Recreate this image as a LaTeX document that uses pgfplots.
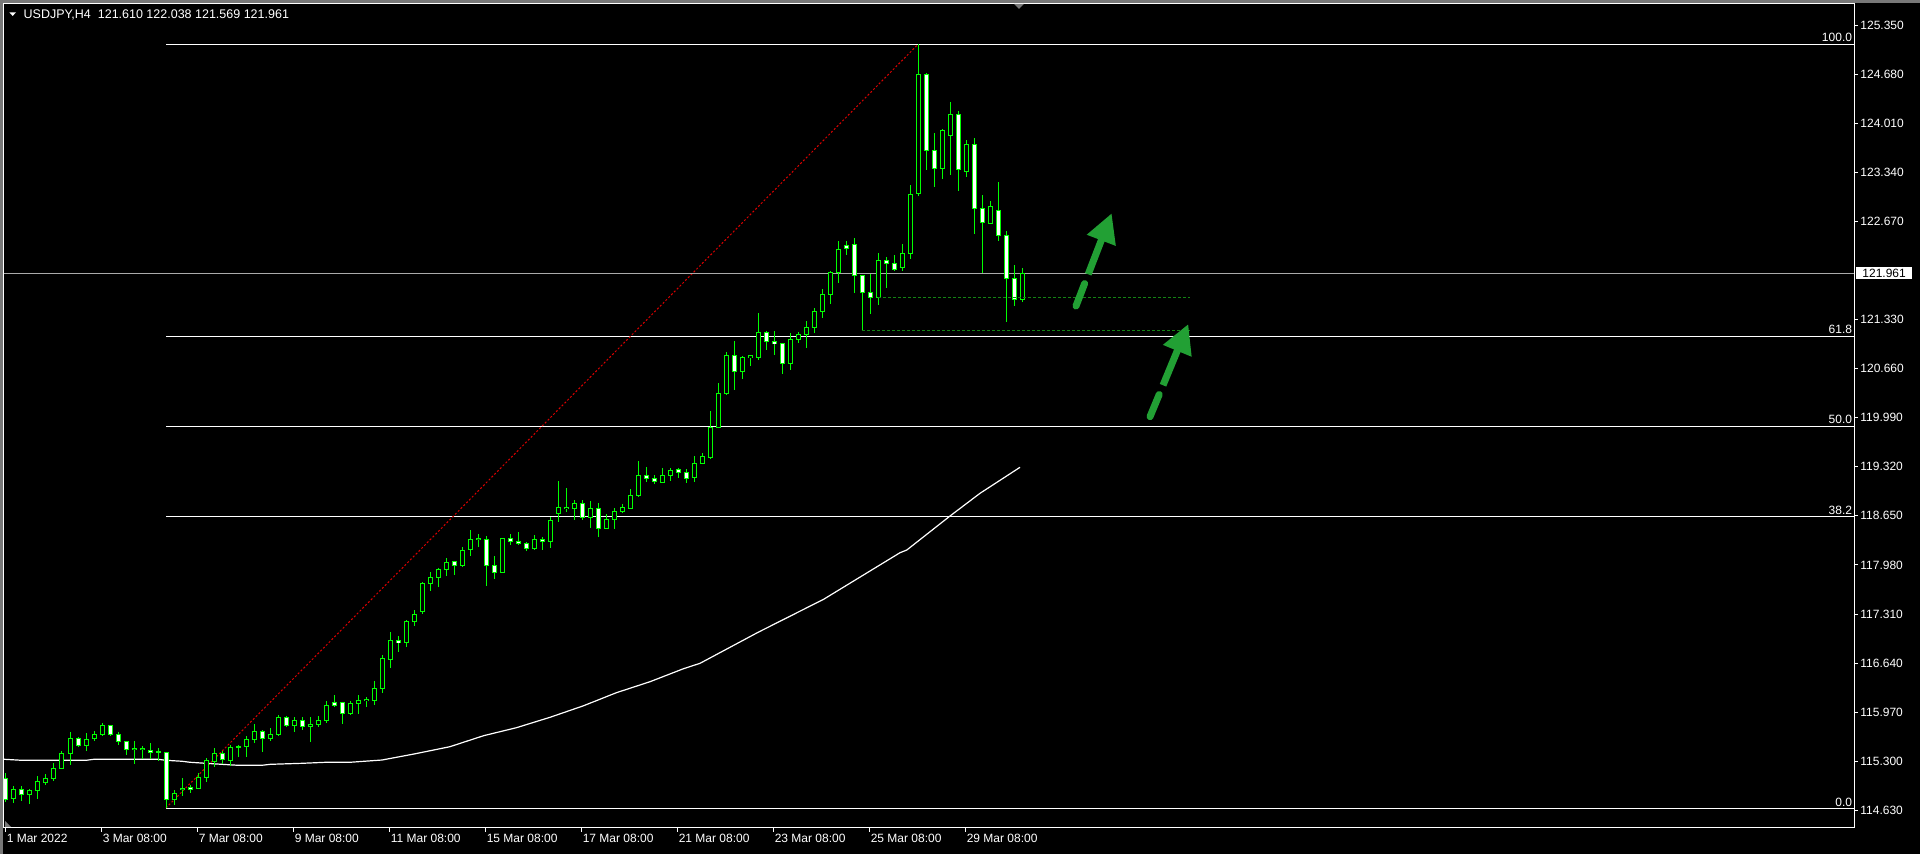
\documentclass[border=0pt]{standalone}
\usepackage{pgfplots}
\pgfplotsset{compat=1.18}
\usepackage{pgfplotstable}
\usepackage{fontspec}
\setmainfont{Liberation Sans}
\usetikzlibrary{arrows.meta}

\definecolor{mtgreen}{RGB}{0,255,0}
\definecolor{arrowgreen}{RGB}{34,160,52}
\definecolor{dashgreen}{RGB}{20,130,20}
\definecolor{fibred}{RGB}{220,0,0}
\definecolor{pricegray}{RGB}{170,170,170}
\definecolor{bordergray}{RGB}{120,120,120}

\pgfplotstableread{
i o h l c
0 115.067 115.135 114.748 114.780
1 114.794 114.962 114.725 114.921
2 114.916 114.962 114.762 114.848
3 114.848 114.921 114.712 114.903
4 114.903 115.094 114.789 115.017
5 115.012 115.121 114.971 115.067
6 115.062 115.276 115.035 115.203
7 115.199 115.440 115.199 115.408
8 115.408 115.704 115.253 115.613
9 115.613 115.626 115.499 115.517
10 115.513 115.681 115.444 115.599
11 115.608 115.713 115.576 115.667
12 115.667 115.822 115.644 115.790
13 115.790 115.799 115.649 115.667
14 115.667 115.704 115.517 115.572
15 115.572 115.572 115.390 115.462
16 115.462 115.576 115.258 115.476
17 115.462 115.508 115.331 115.476
18 115.449 115.549 115.326 115.422
19 115.422 115.476 115.308 115.435
20 115.422 115.422 114.662 114.780
21 114.780 114.907 114.707 114.862
22 114.916 115.071 114.830 114.930
23 114.944 114.971 114.871 114.916
24 114.925 115.135 114.916 115.080
25 115.076 115.340 115.021 115.312
26 115.299 115.476 115.217 115.408
27 115.408 115.435 115.262 115.326
28 115.308 115.517 115.240 115.490
29 115.490 115.517 115.362 115.503
30 115.499 115.640 115.362 115.599
31 115.599 115.808 115.554 115.708
32 115.708 115.722 115.431 115.608
33 115.608 115.749 115.576 115.667
34 115.667 115.927 115.640 115.899
35 115.899 115.918 115.772 115.790
36 115.786 115.899 115.704 115.858
37 115.858 115.899 115.731 115.776
38 115.781 115.899 115.567 115.808
39 115.804 115.918 115.772 115.858
40 115.858 116.118 115.817 116.063
41 116.104 116.200 116.040 116.063
42 116.104 116.109 115.813 115.954
43 115.954 116.120 115.930 116.091
44 116.091 116.205 115.941 116.137
45 116.132 116.173 116.046 116.150
46 116.132 116.396 116.073 116.296
47 116.296 116.751 116.237 116.705
48 116.692 117.060 116.578 116.951
49 116.951 117.010 116.796 116.919
50 116.919 117.229 116.865 117.211
51 117.211 117.365 117.151 117.311
52 117.343 117.752 117.315 117.729
53 117.725 117.884 117.629 117.811
54 117.807 117.939 117.684 117.920
55 117.916 118.075 117.834 118.021
56 118.021 118.039 117.848 117.975
57 117.971 118.221 117.957 118.184
58 118.194 118.457 118.107 118.330
59 118.330 118.403 118.230 118.344
60 118.330 118.376 117.697 117.975
61 117.975 118.102 117.793 117.880
62 117.880 118.353 117.866 118.344
63 118.344 118.398 118.257 118.303
64 118.303 118.430 118.248 118.275
65 118.275 118.294 118.175 118.207
66 118.203 118.389 118.184 118.330
67 118.330 118.357 118.184 118.303
68 118.298 118.639 118.216 118.589
69 118.685 119.126 118.571 118.767
70 118.749 119.031 118.707 118.771
71 118.749 118.867 118.594 118.821
72 118.821 118.867 118.598 118.630
73 118.630 118.853 118.489 118.753
74 118.753 118.821 118.366 118.480
75 118.475 118.671 118.471 118.603
76 118.603 118.758 118.471 118.712
77 118.712 118.808 118.694 118.758
78 118.749 119.017 118.749 118.931
79 118.926 119.399 118.912 119.204
80 119.204 119.313 119.117 119.158
81 119.163 119.208 119.090 119.122
82 119.103 119.299 119.103 119.204
83 119.199 119.299 119.131 119.276
84 119.285 119.308 119.172 119.240
85 119.245 119.285 119.103 119.158
86 119.172 119.467 119.117 119.367
87 119.367 119.504 119.358 119.463
88 119.454 120.082 119.427 119.859
89 119.859 120.460 119.854 120.323
90 120.323 120.888 120.300 120.842
91 120.842 121.038 120.369 120.619
92 120.619 120.830 120.519 120.815
93 120.815 120.847 120.696 120.833
94 120.810 121.420 120.778 121.156
95 121.156 121.174 120.915 121.029
96 121.033 121.174 120.847 121.001
97 121.006 121.006 120.587 120.728
98 120.728 121.142 120.642 121.060
99 121.060 121.165 121.015 121.129
100 121.124 121.311 120.947 121.224
101 121.224 121.484 121.151 121.443
102 121.443 121.748 121.356 121.675
103 121.675 121.993 121.538 121.975
104 121.975 122.402 121.834 122.293
105 122.343 122.402 122.211 122.298
106 122.357 122.439 121.697 121.934
107 121.934 121.934 121.187 121.702
108 121.702 121.952 121.410 121.633
109 121.633 122.234 121.533 122.138
110 122.138 122.189 121.765 122.098
111 122.098 122.207 121.993 122.016
112 122.043 122.362 121.998 122.234
113 122.234 123.167 122.157 123.040
114 123.053 125.087 123.021 124.678
115 124.678 124.701 123.372 123.645
116 123.636 123.872 123.135 123.399
117 123.399 123.927 123.244 123.918
118 123.845 124.296 123.299 124.132
119 124.132 124.177 123.090 123.372
120 123.354 123.781 123.281 123.722
121 123.722 123.804 122.494 122.853
122 122.849 123.031 121.961 122.657
123 122.648 122.944 122.635 122.876
124 122.821 123.208 122.407 122.480
125 122.480 122.535 121.297 121.893
126 121.893 122.075 121.515 121.606
127 121.610 122.038 121.569 121.961
}\candles

\pgfplotstableread{
i m
-0.25 115.327
2 115.313
10 115.313
11 115.327
19 115.327
20 115.313
22 115.300
23 115.286
25 115.272
27 115.258
29 115.245
32 115.245
33 115.258
37 115.272
40 115.286
43 115.286
47 115.317
51 115.399
55.5 115.499
59.7 115.649
63.8 115.758
68 115.900
72.2 116.058
76.3 116.236
80.5 116.386
84.7 116.564
86.75 116.637
94 117.060
102.2 117.511
111.75 118.147
112.6 118.184
118 118.648
121.75 118.958
126.75 119.313
}\ma

\begin{document}
\begin{tikzpicture}
\fill[black] (0,0) rectangle (960pt,427pt);
\path[use as bounding box] (0,0) rectangle (960pt,427pt);
\fill[bordergray] (0,0) rectangle (1.5pt,427pt);
\fill[bordergray] (0,425.5pt) rectangle (960pt,427pt);
\begin{axis}[
  at={(2pt,13pt)}, anchor=south west,
  scale only axis, width=925pt, height=412pt,
  xmin=-0.25, xmax=231, ymin=114.389, ymax=125.638,
  axis background/.style={fill=black},
  axis line style={white, line width=0.5pt},
  tick style={white, line width=0.5pt},
  major tick length=2pt, tick align=outside,
  ytick pos=right, yticklabel pos=right,
  xtick pos=bottom,
  ytick={114.63,115.30,115.97,116.64,117.31,117.98,118.65,119.32,119.99,120.66,121.33,122.67,123.34,124.01,124.68,125.35},
  yticklabel style={font=\fontsize{6pt}{7pt}\selectfont, text=white, anchor=west, inner sep=0pt, xshift=1pt,
    /pgf/number format/.cd, fixed, fixed zerofill, precision=3, assume math mode=true},
  xtick={-0.075,11.925,23.925,35.925,47.925,59.925,71.925,83.925,95.925,107.925,119.925},
  xticklabels={1 Mar 2022,3 Mar 08:00,7 Mar 08:00,9 Mar 08:00,11 Mar 08:00,15 Mar 08:00,17 Mar 08:00,21 Mar 08:00,23 Mar 08:00,25 Mar 08:00,29 Mar 08:00},
  xticklabel style={font=\fontsize{6pt}{7pt}\selectfont, text=white, anchor=north west, inner sep=0pt, xshift=0.5pt, yshift=-1pt},
]
% fibonacci levels
\addplot[white, line width=0.5pt] coordinates {(20,125.090) (231,125.090)};
\addplot[white, line width=0.5pt] coordinates {(20,121.102) (231,121.102)};
\addplot[white, line width=0.5pt] coordinates {(20,119.870) (231,119.870)};
\addplot[white, line width=0.5pt] coordinates {(20,118.638) (231,118.638)};
\addplot[white, line width=0.5pt] coordinates {(20,114.650) (231,114.650)};
% fib trend line
\addplot[fibred, line width=0.5pt, dash pattern=on 1pt off 1pt] coordinates {(20,114.662) (114,125.087)};
% current price line
\addplot[pricegray, line width=0.5pt] coordinates {(-0.25,121.961) (231,121.961)};
% moving average
\addplot[white, line width=0.6pt] table[x=i, y=m] {\ma};
% wicks
\addplot[draw=none, mark=none, error bars/.cd, y dir=both, y explicit, error mark=none,
  error bar style={draw=mtgreen, line width=0.5pt}]
  table[x=i, y expr={(\thisrow{h}+\thisrow{l})/2}, y error expr={(\thisrow{h}-\thisrow{l})/2}] {\candles};
% body outline
\addplot[draw=none, mark=none, error bars/.cd, y dir=both, y explicit, error mark=none,
  error bar style={draw=mtgreen, line width=2.5pt}]
  table[x=i, y expr={(\thisrow{o}+\thisrow{c})/2}, y error expr={abs(\thisrow{c}-\thisrow{o})/2+0.0068}] {\candles};
% bull fill
\addplot[draw=none, mark=none, error bars/.cd, y dir=both, y explicit, error mark=none,
  error bar style={draw=black, line width=1.5pt}]
  table[x=i, y expr={(\thisrow{o}+\thisrow{c})/2}, y error expr={max(abs(\thisrow{c}-\thisrow{o})/2-0.0068,0)}] {\candles};
% bear fill
\addplot[draw=none, mark=none, error bars/.cd, y dir=both, y explicit, error mark=none,
  error bar style={draw=white, line width=1.5pt}]
  table[x=i, y expr={(\thisrow{o}+\thisrow{c})/2}, y error expr={max((\thisrow{o}-\thisrow{c})/2-0.0068,0)}] {\candles};
% dashed support lines
\addplot[dashgreen, line width=0.5pt, dash pattern=on 1.5pt off 1pt] coordinates {(107,121.187) (148,121.187)};
\addplot[dashgreen, line width=0.5pt, dash pattern=on 1.5pt off 1pt] coordinates {(109,121.633) (148,121.633)};
% arrows
\addplot[arrowgreen, line width=3.5pt, line cap=round] coordinates {(133.75,121.515) (134.825,121.821)};
\addplot[arrowgreen, line width=3.5pt, -{Triangle[width=14.5pt,length=14.5pt]}] coordinates {(135.275,121.948) (138.21,122.781)};
\addplot[arrowgreen, line width=3.5pt, line cap=round] coordinates {(143.0,120.004) (144.15,120.307)};
\addplot[arrowgreen, line width=3.5pt, -{Triangle[width=14.5pt,length=14.5pt]}] coordinates {(144.625,120.433) (147.79,121.269)};
% fib labels
\node[anchor=base east, text=white, font=\fontsize{6pt}{7pt}\selectfont, inner sep=0pt] at (axis cs:230.8,125.090) [yshift=1.3pt] {100.0};
\node[anchor=base east, text=white, font=\fontsize{6pt}{7pt}\selectfont, inner sep=0pt] at (axis cs:230.8,121.102) [yshift=1.3pt] {61.8};
\node[anchor=base east, text=white, font=\fontsize{6pt}{7pt}\selectfont, inner sep=0pt] at (axis cs:230.8,119.870) [yshift=1.3pt] {50.0};
\node[anchor=base east, text=white, font=\fontsize{6pt}{7pt}\selectfont, inner sep=0pt] at (axis cs:230.8,118.638) [yshift=1.3pt] {38.2};
\node[anchor=base east, text=white, font=\fontsize{6pt}{7pt}\selectfont, inner sep=0pt] at (axis cs:230.8,114.650) [yshift=1.3pt] {0.0};
\end{axis}
% current price box
\node[fill=white, text=black, anchor=west, inner xsep=3pt, inner ysep=0pt, minimum height=6pt,
  font=\fontsize{6pt}{7pt}\selectfont] at (928pt,290.5pt) {121.961};
% title
\fill[white] (4.65pt,420.85pt) -- (8pt,420.85pt) -- (6.35pt,419pt) -- cycle;
\node[anchor=base west, text=white, inner sep=0pt, font=\fontsize{6.25pt}{7pt}\selectfont] at (11.65pt,417.85pt) {USDJPY,H4\hspace{3.5pt}121.610 122.038 121.569 121.961};
% chart shift marker and corner marker
\fill[bordergray] (507pt,425pt) -- (512pt,425pt) -- (509.5pt,422.5pt) -- cycle;
\fill[bordergray] (2.5pt,16.5pt) -- (2.5pt,13.5pt) -- (5.5pt,13.5pt) -- cycle;
\end{tikzpicture}
\end{document}
